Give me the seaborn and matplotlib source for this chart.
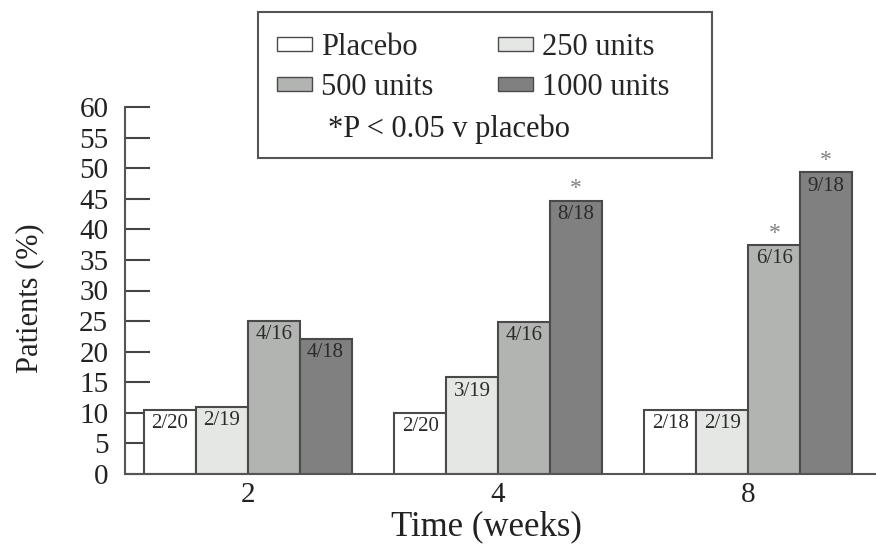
import matplotlib
matplotlib.use("Agg")
import matplotlib.pyplot as plt
import seaborn as sns
import pandas as pd
from matplotlib.patches import Patch, Rectangle

# ---- data ----
weeks = ["2", "4", "8"]
groups = ["Placebo", "250 units", "500 units", "1000 units"]
placebo = [10.5, 10.0, 10.5]
u250 = [11.0, 15.8, 10.5]
u500 = [25.0, 24.9, 37.4]
u1000 = [22.1, 44.7, 49.3]
labels_placebo = ["2/20", "2/20", "2/18"]
labels_250 = ["2/19", "3/19", "2/19"]
labels_500 = ["4/16", "4/16", "6/16"]
labels_1000 = ["4/18", "8/18", "9/18"]
sig_placebo = [False, False, False]
sig_250 = [False, False, False]
sig_500 = [False, False, True]
sig_1000 = [False, True, True]
note = "*P < 0.05 v placebo"

colors = ["#ffffff", "#e5e7e5", "#b2b4b2", "#808080"]
edge = "#4a4a4a"

rows = []
series = [placebo, u250, u500, u1000]
labs = [labels_placebo, labels_250, labels_500, labels_1000]
sigs = [sig_placebo, sig_250, sig_500, sig_1000]
for g, vals, lb, sg in zip(groups, series, labs, sigs):
    for w, v, l, s in zip(weeks, vals, lb, sg):
        rows.append({"week": w, "group": g, "pct": v, "lab": l, "sig": s})
df = pd.DataFrame(rows)

sns.set_theme(style="white")
plt.rcParams["font.family"] = ["Liberation Serif", "DejaVu Serif"]

W, H = 876, 553
fig = plt.figure(figsize=(W / 100, H / 100), dpi=100)
ax = fig.add_axes([125 / W, 1 - 474 / H, (W - 125) / W, (474 - 107) / H])

sns.barplot(data=df, x="week", y="pct", hue="group", order=weeks,
            hue_order=groups, palette=colors, width=0.83, ax=ax,
            edgecolor=edge, linewidth=1.5, legend=False, errorbar=None)

# annotations
for ci, g in enumerate(groups):
    cont = ax.containers[ci]
    sub = df[df["group"] == g].set_index("week").loc[weeks]
    for bar, (_, r) in zip(cont, sub.iterrows()):
        cx = bar.get_x() + bar.get_width() / 2
        top = bar.get_height()
        ax.annotate(r["lab"], (cx, top), xytext=(0, -3), textcoords="offset points",
                    ha="center", va="top", fontsize=15, color="#2a2a2a")
        if r["sig"]:
            ax.annotate("*", (cx, top), xytext=(0, 1), textcoords="offset points",
                        ha="center", va="bottom", fontsize=17, color="#808080")

ax.set_ylim(0, 60)
ax.set_xlim(-0.49, 2.51)
ax.set_yticks(range(0, 61, 5))
ax.tick_params(axis="y", direction="in", length=18, width=1.5, color="#444444",
               labelsize=21, pad=12, left=True)
ax.tick_params(axis="x", length=0, labelsize=21, pad=6)
for lbl in ax.get_yticklabels() + ax.get_xticklabels():
    lbl.set_color("#222222")
ax.set_xlabel("Time (weeks)", fontsize=25, color="#222222")
ax.set_ylabel("Patients (%)", fontsize=22, color="#222222")
ax.xaxis.set_label_coords((486 - 125) / (W - 125), (474 - 510) / (474 - 107))
ax.yaxis.set_label_coords((44 - 125) / (W - 125), 0.48)

sns.despine(ax=ax, top=True, right=True)
for s in ["left", "bottom"]:
    ax.spines[s].set_color("#555555")
    ax.spines[s].set_linewidth(1.5)

# legend box
fig.patches.append(Rectangle((258 / W, 1 - 158 / H), 454 / W, 146 / H,
                             transform=fig.transFigure, facecolor="white",
                             edgecolor="#555555", linewidth=1.5, zorder=1))
handles = [Patch(facecolor=colors[0], edgecolor=edge, label=groups[0]),
           Patch(facecolor=colors[2], edgecolor=edge, label=groups[2]),
           Patch(facecolor=colors[1], edgecolor=edge, label=groups[1]),
           Patch(facecolor=colors[3], edgecolor=edge, label=groups[3])]
leg = fig.legend(handles=handles, ncol=2, loc="upper left",
                 bbox_to_anchor=(277 / W, 1 - 33 / H), fontsize=22,
                 frameon=False, handlelength=1.15, handleheight=0.32,
                 handletextpad=0.3, columnspacing=2.1, labelspacing=0.35,
                 borderpad=0, borderaxespad=0)
leg.set_zorder(2)
fig.text(328 / W, 1 - 129 / H, note, fontsize=22, color="#222222",
         ha="left", va="center", zorder=3)

fig.savefig("out.png", dpi=100, facecolor="white")
